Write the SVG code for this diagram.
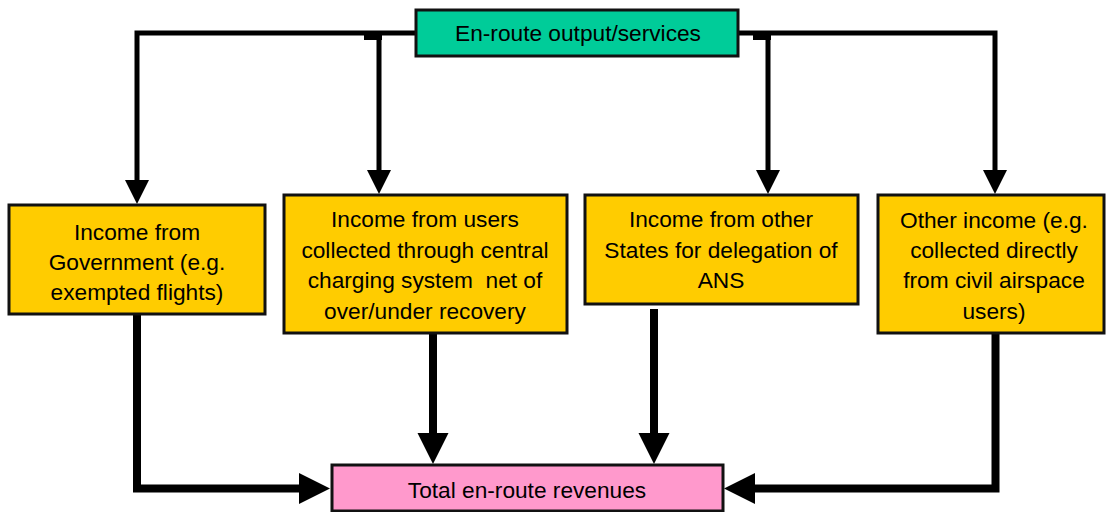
<svg xmlns="http://www.w3.org/2000/svg" width="1106" height="512" viewBox="0 0 1106 512">
<defs>
<style>
.box{stroke:#111;stroke-width:3}
.top{fill:#00CC99}
.inc{fill:#FFCC00}
.tot{fill:#FF99CC}
text{font-family:"Liberation Sans",Arial,sans-serif;font-size:22.7px;fill:#000;text-anchor:middle;white-space:pre}
.thin{fill:none;stroke:#000;stroke-width:5}
.thick{fill:none;stroke:#000;stroke-width:8}
</style>
<marker id="ah" markerUnits="userSpaceOnUse" markerWidth="26" markerHeight="26" refX="0" refY="12" orient="auto" viewBox="0 0 26 26">
<path d="M0,0 L24,12 L0,24 Z" fill="#000"/>
</marker>
<marker id="ahb" markerUnits="userSpaceOnUse" markerWidth="32" markerHeight="32" refX="0" refY="15.5" orient="auto" viewBox="0 0 32 32">
<path d="M0,0 L31,15.5 L0,31 Z" fill="#000"/>
</marker>
</defs>
<g id="connectors">
<path class="thin" d="M416,33 H137 V180" marker-end="url(#ah)"/>
<rect x="364" y="31" width="18" height="9" fill="#000"/>
<path class="thin" d="M379,35 V170" marker-end="url(#ah)"/>
<path class="thin" d="M738,33 H995 V170" marker-end="url(#ah)"/>
<rect x="753" y="31" width="18" height="9" fill="#000"/>
<path class="thin" d="M768,35 V170" marker-end="url(#ah)"/>
<path class="thick" d="M137,315 V488.5 H299" marker-end="url(#ahb)"/>
<path class="thick" d="M433,334 V433" marker-end="url(#ahb)"/>
<path class="thick" d="M654,309 V433" marker-end="url(#ahb)"/>
<path class="thick" d="M995.5,334 V488.5 H755" marker-end="url(#ahb)"/>
</g>
<g id="node-top">
<rect class="box top" x="416" y="10" width="322" height="46"/>
<text x="578" y="41">En-route output/services</text>
</g>
<g id="node-gov">
<rect class="box inc" x="9" y="205" width="256" height="109"/>
<text x="137" y="240">Income from</text>
<text x="137" y="270">Government (e.g.</text>
<text x="137" y="300">exempted flights)</text>
</g>
<g id="node-users">
<rect class="box inc" x="284" y="195" width="283" height="138"/>
<text x="425" y="227">Income from users</text>
<text x="425" y="258">collected through central</text>
<text x="425" y="288">charging system  net of</text>
<text x="425" y="319">over/under recovery</text>
</g>
<g id="node-states">
<rect class="box inc" x="585" y="195" width="273" height="109"/>
<text x="721" y="227">Income from other</text>
<text x="721" y="258">States for delegation of</text>
<text x="721" y="288">ANS</text>
</g>
<g id="node-other">
<rect class="box inc" x="878" y="195" width="226" height="138"/>
<text x="994" y="228">Other income (e.g.</text>
<text x="994" y="258">collected directly</text>
<text x="994" y="288">from civil airspace</text>
<text x="994" y="319">users)</text>
</g>
<g id="node-total">
<rect class="box tot" x="332" y="465" width="391" height="46"/>
<text x="527" y="498">Total en-route revenues</text>
</g>
</svg>
